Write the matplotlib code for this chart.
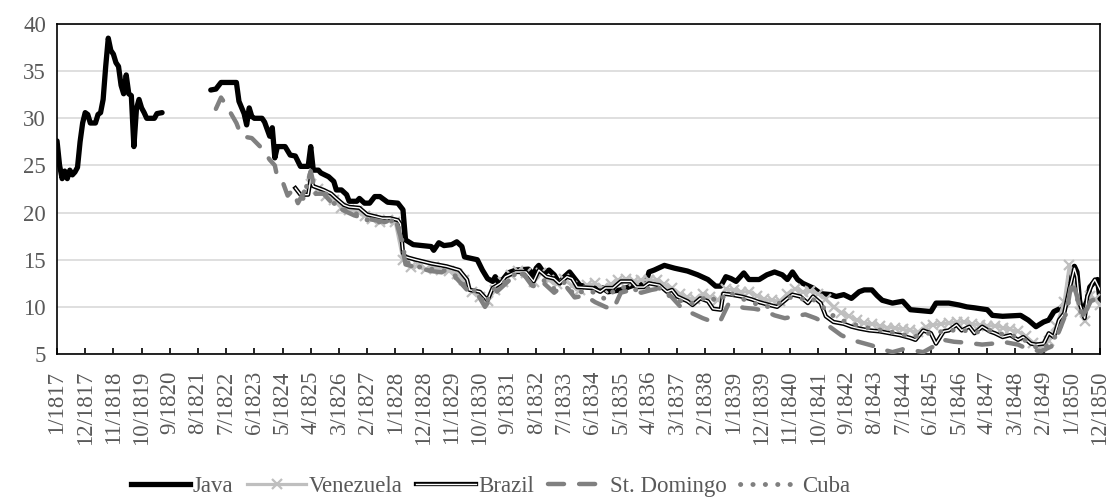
import numpy as np
import matplotlib
matplotlib.use("Agg")
import matplotlib.pyplot as plt
from matplotlib.lines import Line2D

plt.rcParams["font.family"] = ["Liberation Serif", "DejaVu Serif"]

# month offsets are counted from 1/1817 (0) to 12/1850 (407)
tick_labels = ["1/1817", "12/1817", "11/1818", "10/1819", "9/1820", "8/1821", "7/1822",
               "6/1823", "5/1824", "4/1825", "3/1826", "2/1827", "1/1828", "12/1828",
               "11/1829", "10/1830", "9/1831", "8/1832", "7/1833", "6/1834", "5/1835",
               "4/1836", "3/1837", "2/1838", "1/1839", "12/1839", "11/1840", "10/1841",
               "9/1842", "8/1843", "7/1844", "6/1845", "5/1846", "4/1847", "3/1848",
               "2/1849", "1/1850", "12/1850"]

java_m = [0, 1, 2, 3, 4, 5, 6, 7, 8, 9, 10, 11, 12, 13, 15, 16, 17, 18, 19, 20, 21, 22, 23,
          24, 25, 26, 27, 28, 29, 30, 31, 32, 33, 34, 35, 38, 39, 41, 42,
          60, 62, 64, 70, 71, 73, 74, 75, 76, 77, 80, 81, 83, 84, 85, 86, 89, 91, 93, 95,
          98, 99, 100, 102, 103, 106, 108, 109, 111, 113, 114, 117, 118, 120, 122, 124,
          126, 129, 133, 135, 136, 139, 146, 147, 149, 151, 154, 156, 158, 159, 164, 166,
          168, 170, 171, 172, 174, 176, 179, 184, 186, 187, 188, 190, 192, 194, 196, 198,
          200, 202, 204, 209, 213, 215, 220, 225, 230, 231, 233, 237, 241, 246, 250, 254,
          257, 259, 261, 263, 265, 268, 270, 274, 277, 280, 283, 285, 287, 289, 291, 295,
          298, 302, 304, 307, 310, 313, 315, 318, 320, 322, 326, 330, 333, 341, 343, 348,
          352, 355, 358, 363, 365, 369, 376, 379, 382, 385, 387, 389, 392, 394, 395, 397,
          398, 399, 400, 402, 403, 405, 406, 407]
java_v = [27.6, 25.0, 23.6, 24.4, 23.6, 24.5, 24.0, 24.3, 24.8, 27.5, 29.5, 30.6, 30.4, 29.5,
          29.5, 30.4, 30.6, 32.0, 35.5, 38.5, 37.2, 36.8, 35.9, 35.5, 33.5, 32.6, 34.6, 32.6,
          32.4, 27.0, 31.0, 32.0, 31.1, 30.6, 30.0, 30.0, 30.5, 30.6, np.nan,
          33.0, 33.1, 33.8, 33.8, 31.8, 30.5, 29.3, 31.1, 30.2, 30.0, 30.0, 29.6, 28.1, 29.0,
          25.8, 27.0, 27.0, 26.1, 26.0, 24.9, 24.9, 27.0, 24.5, 24.5, 24.2, 23.8, 23.3, 22.4,
          22.4, 21.9, 21.2, 21.2, 21.5, 21.0, 21.0, 21.7, 21.7, 21.1, 21.0, 20.3, 17.1, 16.6,
          16.4, 16.0, 16.8, 16.5, 16.6, 16.9, 16.4, 15.3, 15.0, 13.9, 13.0, 12.7, 13.2, 12.7,
          12.9, 13.6, 13.9, 14.0, 13.4, 14.1, 14.4, 13.6, 13.9, 13.4, 12.5, 13.2, 13.7, 13.0,
          12.3, 12.0, 12.0, 11.6, 11.8, 12.3, 12.7, 13.7, 13.9, 14.4, 14.1, 13.8, 13.4, 12.9,
          12.2, 12.2, 13.2, 13.0, 12.7, 13.6, 12.9, 12.9, 13.4, 13.7, 13.4, 12.9, 13.7, 12.9,
          12.5, 12.0, 11.4, 11.3, 11.1, 11.3, 10.9, 11.6, 11.8, 11.8, 11.2, 10.7, 10.4, 10.6,
          9.7, 9.5, 10.4, 10.4, 10.2, 10.0, 9.9, 9.7, 9.1, 9.0, 9.1, 8.6, 7.9, 8.4, 8.6, 9.5,
          9.9, 10.7, 13.2, 14.3, 13.7, 10.7, 9.3, 10.7, 12.1, 12.7, 12.9, 10.8]

ven_m = [99, 102, 105, 108, 111, 114, 117, 120, 123, 126, 129, 132, 135, 138, 141, 144, 147,
         150, 153, 156, 159, 162, 165, 168, 171, 174, 177, 180, 183, 186, 189, 192, 195, 198,
         201, 204, 207, 210, 213, 216, 219, 222, 225, 228, 231, 234, 237, 240, 243, 246, 249,
         252, 255, 258, 261, 264, 267, 270, 273, 276, 279, 282, 285, 288, 291, 294, 297, 300,
         303, 306, 309, 312, 315, 318, 321, 324, 327, 330, 333, 336, 339, 342, 345, 348, 351,
         354, 357, 360, 363, 366, 369, 372, 375, 378, 381, 384, 387, 390, 393, 395, 397, 399,
         401, 403, 405, 407]
ven_v = [23.0, 22.5, 21.8, 21.3, 20.5, 20.3, 20.2, 19.6, 19.3, 19.0, 19.2, 19.0, 15.0, 14.2,
         14.4, 14.0, 14.2, 13.9, 13.8, 13.5, 12.8, 11.6, 11.0, 10.6, 11.8, 12.6, 13.4, 13.8,
         13.6, 12.6, 13.6, 12.8, 12.4, 13.0, 12.2, 11.8, 12.3, 12.5, 12.0, 12.4, 12.8, 13.0,
         12.7, 12.8, 12.9, 12.8, 12.4, 12.0, 11.4, 11.0, 10.8, 11.4, 11.0, 10.7, 11.9, 11.8,
         11.6, 11.6, 11.2, 10.8, 10.7, 10.6, 11.4, 11.9, 11.6, 11.7, 11.4, 10.8, 10.0, 9.4,
         9.0, 8.6, 8.3, 8.2, 8.0, 7.8, 7.8, 7.6, 7.5, 7.3, 7.9, 8.1, 8.2, 8.3, 8.4, 8.4, 8.2,
         8.1, 8.0, 8.0, 7.8, 7.6, 7.4, 6.9, 6.2, 5.7, 6.4, 8.0, 10.5, 14.4, 12.0, 9.5, 8.5,
         11.2, 10.8, 10.2]

brazil_m = [93, 95, 98, 99, 100, 104, 107, 109, 112, 114, 118, 121, 124, 127, 130, 133, 134,
            135, 136, 140, 146, 152, 157, 160, 161, 165, 168, 170, 173, 175, 179, 183, 186,
            188, 191, 194, 196, 199, 201, 203, 209, 212, 214, 217, 220, 224, 226, 229, 231,
            235, 238, 240, 242, 246, 248, 251, 254, 256, 259, 260, 263, 267, 271, 274, 278,
            281, 285, 287, 290, 293, 295, 298, 300, 303, 307, 310, 313, 317, 321, 325, 329,
            333, 335, 338, 341, 343, 346, 348, 351, 353, 356, 358, 361, 364, 366, 369, 372,
            375, 377, 380, 382, 385, 387, 389, 391, 393, 395, 397, 398, 399, 401, 402, 404,
            405, 407]
brazil_v = [22.6, 21.9, 21.9, 23.6, 22.8, 22.4, 22.0, 21.5, 20.8, 20.6, 20.5, 19.8, 19.6,
            19.4, 19.4, 19.2, 18.8, 15.7, 15.3, 15.0, 14.6, 14.3, 13.9, 12.9, 11.8, 11.6,
            10.7, 12.0, 12.5, 13.2, 13.7, 13.7, 12.7, 13.9, 13.2, 13.0, 12.5, 13.2, 13.0,
            12.1, 12.0, 11.6, 12.0, 12.0, 12.7, 12.7, 12.1, 12.1, 12.5, 12.3, 11.6, 11.8,
            11.1, 10.6, 10.2, 10.9, 10.6, 9.8, 9.7, 11.4, 11.3, 11.1, 10.8, 10.5, 10.2, 10.0,
            10.9, 11.3, 11.1, 10.4, 11.1, 10.4, 9.0, 8.4, 8.2, 7.9, 7.7, 7.5, 7.4, 7.2, 7.0,
            6.7, 6.5, 7.5, 7.2, 6.1, 7.4, 7.5, 8.1, 7.5, 7.9, 7.2, 7.9, 7.4, 7.2, 6.8, 7.0,
            6.5, 6.8, 6.1, 6.0, 6.1, 7.2, 6.8, 8.6, 9.3, 11.8, 14.1, 13.2, 10.4, 8.8, 11.1,
            12.5, 12.9, 11.8]

stdom_m = [62, 64, 66, 70, 72, 76, 80, 83, 85, 86, 88, 90, 92, 94, 97, 99, 101, 104, 108,
           112, 116, 120, 124, 128, 132, 134, 136, 140, 146, 152, 156, 160, 164, 167, 170,
           174, 178, 182, 186, 190, 194, 198, 202, 206, 210, 214, 217, 220, 224, 228, 232,
           236, 240, 244, 248, 252, 256, 259, 262, 268, 272, 276, 280, 284, 288, 292, 296,
           299, 302, 306, 310, 314, 318, 322, 326, 330, 334, 338, 342, 346, 350, 355, 361,
           365, 369, 375, 379, 384, 388, 391, 394, 396, 398, 400, 402, 404, 407]
stdom_v = [31.0, 32.2, 31.4, 29.5, 28.1, 27.9, 26.8, 25.6, 25.0, 23.7, 23.3, 21.8, 22.4,
           21.0, 22.5, 24.4, 22.0, 22.0, 20.8, 20.2, 19.7, 19.4, 19.2, 19.0, 19.4, 17.5, 14.5,
           14.2, 13.8, 13.6, 13.0, 11.8, 11.4, 10.0, 11.2, 12.2, 13.2, 13.5, 12.0, 12.5, 11.5,
           12.4, 11.0, 11.2, 10.5, 10.0, 9.7, 11.5, 11.8, 11.5, 11.8, 12.0, 11.0, 9.8, 9.3,
           8.8, 8.4, 8.6, 10.3, 9.9, 9.8, 9.6, 9.1, 8.8, 9.0, 9.2, 8.8, 8.4, 7.8, 7.0, 6.5,
           6.2, 5.9, 5.5, 5.2, 5.5, 5.4, 5.2, 5.8, 6.5, 6.3, 6.2, 6.0, 6.1, 6.3, 6.0, 5.5, 5.3,
           5.8, 7.4, 9.5, 12.8, 11.2, 9.0, 9.8, 11.0, 10.2]

cuba_m = [96, 99, 101, 104, 108, 112, 116, 120, 124, 128, 132, 134, 136, 140, 146, 152, 156,
          160, 164, 167, 170, 174, 178, 182, 186, 190, 194, 198, 202, 206, 210, 214, 218, 222,
          226, 230, 234, 238, 242, 246, 250, 254, 258, 262, 266, 270, 274, 278, 282, 286, 290,
          294, 298, 302, 306, 310, 316, 322, 328, 334, 340, 346, 352, 358, 364, 370, 376, 380,
          384, 388, 391, 394, 396, 398, 400, 403, 407]
cuba_v = [21.5, 24.3, 22.0, 22.3, 21.0, 20.3, 20.0, 19.3, 19.0, 19.0, 19.2, 18.0, 14.8, 14.3,
          14.0, 13.8, 13.2, 12.0, 11.6, 10.2, 11.8, 12.5, 13.4, 13.5, 12.2, 12.8, 11.9, 12.6,
          11.2, 11.8, 11.5, 10.8, 11.9, 12.1, 11.8, 11.9, 12.2, 11.3, 10.8, 10.3, 10.5, 11.2,
          10.5, 11.6, 11.0, 10.6, 10.2, 10.0, 10.4, 11.0, 10.8, 11.0, 10.2, 9.2, 8.6, 8.2,
          7.8, 7.5, 7.2, 6.8, 7.2, 7.4, 7.6, 7.3, 7.5, 7.0, 6.8, 6.0, 5.5, 6.2, 7.5, 9.5,
          12.5, 11.0, 9.0, 10.5, 11.2]

GRAY = "#808080"
LIGHT = "#bfbfbf"
TEXT = "#595959"
FS = 16.5

fig = plt.figure(figsize=(11.07, 4.97), dpi=100)
ax = fig.add_axes([0.0515, 0.2877, 0.9422, 0.664])

ax.plot(java_m, java_v, color="black", lw=3.8, solid_joinstyle="round",
        solid_capstyle="round", zorder=3)
ax.plot(ven_m, ven_v, color=LIGHT, lw=2.3, marker="x", ms=6.5, mew=1.6, zorder=4)
ax.plot(brazil_m, brazil_v, color="black", lw=3.1, solid_joinstyle="round", zorder=5)
ax.plot(brazil_m, brazil_v, color="white", lw=1.0, solid_joinstyle="round", zorder=5)
ax.plot(stdom_m, stdom_v, color=GRAY, lw=3.2, dashes=(3.6, 3.4),
        dash_capstyle="round", zorder=6)
ax.plot(cuba_m, cuba_v, color=GRAY, lw=3.5, dashes=(0.05, 2.5),
        dash_capstyle="round", zorder=7)

ax.set_xlim(0, 407)
ax.set_ylim(5, 40)
ax.set_yticks(range(5, 41, 5))
ax.set_xticks(np.arange(len(tick_labels)) * 11)
ax.set_xticklabels(tick_labels, rotation=90)

ax.yaxis.grid(True, color="#d9d9d9", lw=1.2)
ax.set_axisbelow(True)
for s in ax.spines.values():
    s.set_color("black")
    s.set_linewidth(1.2)

ax.tick_params(axis="x", direction="in", length=4.5, width=1.2, pad=12,
               labelsize=FS, labelcolor=TEXT)
ax.tick_params(axis="y", length=0, pad=8, labelsize=FS, labelcolor=TEXT)

handles = [
    Line2D([], [], color="black", lw=3.8),
    Line2D([], [], color=LIGHT, lw=2.3, marker="x", ms=6.5, mew=1.6),
    (Line2D([], [], color="black", lw=3.1), Line2D([], [], color="white", lw=1.0)),
    Line2D([], [], color=GRAY, lw=3.2, dashes=(3.6, 3.4), dash_capstyle="round"),
    Line2D([], [], color=GRAY, lw=3.5, dashes=(0.05, 2.5), dash_capstyle="round"),
]
names = ["Java", "Venezuela", "Brazil", "St. Domingo", "Cuba"]
fig.legend(handles, names, loc="center", bbox_to_anchor=(0.443, 0.022), ncol=5,
           frameon=False, fontsize=FS, labelcolor=TEXT, handlelength=2.6,
           handletextpad=0.1, columnspacing=0.6, borderpad=0)

fig.savefig("out.png", dpi=100)
